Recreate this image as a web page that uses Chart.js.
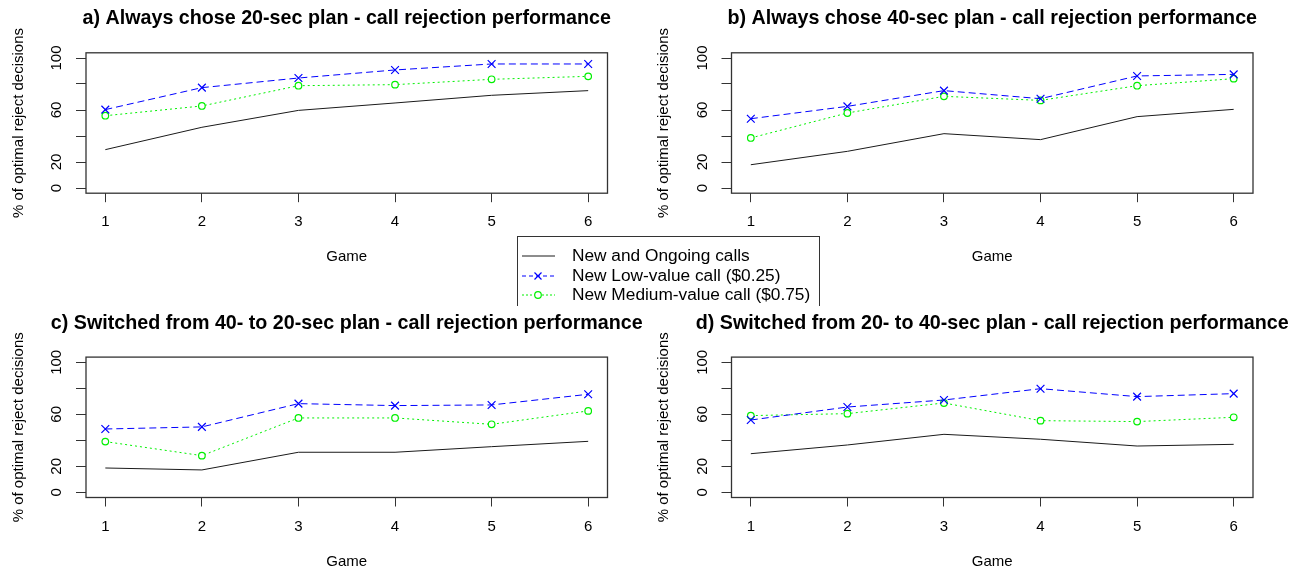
<!DOCTYPE html>
<html>
<head>
<meta charset="utf-8">
<script src="https://cdn.jsdelivr.net/npm/chart.js@4.4.1/dist/chart.umd.min.js"></script>
<style>
  body { margin: 0; background: #fff; width: 1304px; height: 569px; overflow: hidden; position: relative; font-family: "Liberation Sans", Arial, sans-serif; }
  canvas { position: absolute; }
  #legend { position: absolute; left: 517px; top: 236px; width: 303px; height: 70px; box-sizing: border-box;
            border: 1px solid #333; border-bottom: none; }
  #legend .row { position: absolute; left: 0; height: 19.7px; line-height: 19.7px; font-size: 17.3px; color: #000; white-space: nowrap; }
  #legend svg { position: absolute; left: 4px; top: 0; }
  #legend span { position: absolute; left: 54px; top: 0; }
</style>
</head>
<body>
<canvas id="chartA"></canvas>
<canvas id="chartB"></canvas>
<canvas id="chartC"></canvas>
<canvas id="chartD"></canvas>
<div id="legend"></div>

<script>
// x = game number, y = % of optimal reject decisions
const games = [1, 2, 3, 4, 5, 6];
const yTicks = [0, 20, 40, 60, 80, 100];
const yTickLabels = ['0', '20', '', '60', '', '100'];
const seriesNames = ['New and Ongoing calls', 'New Low-value call ($0.25)', 'New Medium-value call ($0.75)'];

// a) Always chose 20-sec plan
const aOngoing = [29.5, 46.7, 59.7, 65.4, 71.3, 74.9];
const aLow     = [60.3, 77.2, 84.6, 90.8, 95.4, 95.4];
const aMedium  = [55.6, 63.1, 78.7, 79.5, 83.6, 85.9];

// b) Always chose 40-sec plan
const bOngoing = [17.9, 28.2, 41.8, 37.2, 54.9, 60.5];
const bLow     = [53.3, 62.8, 74.9, 68.7, 86.2, 87.4];
const bMedium  = [38.5, 57.7, 70.5, 67.4, 78.7, 84.1];

// c) Switched from 40- to 20-sec plan
const cOngoing = [18.7, 17.2, 30.8, 30.8, 35.1, 39.2];
const cLow     = [48.7, 50.3, 68.2, 66.7, 67.2, 75.4];
const cMedium  = [39.0, 28.2, 57.2, 57.2, 52.3, 62.6];

// d) Switched from 20- to 40-sec plan
const dOngoing = [29.7, 36.4, 44.6, 40.8, 35.6, 36.9];
const dLow     = [55.6, 65.6, 71.0, 79.7, 73.6, 75.9];
const dMedium  = [59.0, 60.5, 68.7, 55.1, 54.4, 57.7];

const FONT = '"Liberation Sans", Arial, sans-serif';
Chart.defaults.font.family = FONT;
Chart.defaults.color = '#000';

// box around plot area, rotated y tick labels, panel title
const rPlotExtras = {
    id: 'rPlotExtras',
    afterDraw(chart, args, opts) {
        const { ctx, chartArea: ca } = chart;
        const yScale = chart.scales.y;
        ctx.save();
        ctx.strokeStyle = '#333';
        ctx.lineWidth = 1.3;
        ctx.strokeRect(ca.left, ca.top, ca.right - ca.left, ca.bottom - ca.top);

        ctx.fillStyle = '#000';
        ctx.font = '15px ' + FONT;
        ctx.textAlign = 'center';
        ctx.textBaseline = 'middle';
        yTicks.forEach((v, i) => {
            if (!yTickLabels[i]) return;
            ctx.save();
            ctx.translate(ca.left - 29, yScale.getPixelForValue(v));
            ctx.rotate(-Math.PI / 2);
            ctx.fillText(yTickLabels[i], 0, 0);
            ctx.restore();
        });

        ctx.font = 'bold 19.7px ' + FONT;
        ctx.fillText(opts.text, (ca.left + ca.right) / 2, ca.top - 34);
        ctx.restore();
    }
};

function makePanel(id, left, top, width, height, yWidth, pad, title, ongoing, low, medium) {
    const canvas = document.getElementById(id);
    canvas.width = width;
    canvas.height = height;
    canvas.style.left = left + 'px';
    canvas.style.top = top + 'px';

    const pts = vals => games.map((g, i) => ({ x: g, y: vals[i] }));

    return new Chart(canvas, {
        type: 'line',
        data: {
            datasets: [
                {
                    label: seriesNames[0], data: pts(ongoing),
                    borderColor: '#1a1a1a', borderWidth: 1, pointRadius: 0, tension: 0
                },
                {
                    label: seriesNames[1], data: pts(low),
                    borderColor: '#0000ff', borderWidth: 1, borderDash: [7, 4], tension: 0,
                    pointStyle: 'crossRot', pointRadius: 5.5, pointBorderColor: '#0000ff',
                    pointBorderWidth: 1.2, pointBackgroundColor: 'rgba(0,0,0,0)'
                },
                {
                    label: seriesNames[2], data: pts(medium),
                    borderColor: '#00f000', borderWidth: 1, borderDash: [2, 3], tension: 0,
                    pointStyle: 'circle', pointRadius: 3.3, pointBorderColor: '#00f000',
                    pointBorderWidth: 1.2, pointBackgroundColor: '#fff'
                }
            ]
        },
        options: {
            responsive: false,
            maintainAspectRatio: false,
            animation: false,
            devicePixelRatio: 1,
            layout: { padding: pad },
            plugins: {
                legend: { display: false },
                tooltip: { enabled: false },
                rPlotExtras: { text: title }
            },
            scales: {
                x: {
                    type: 'linear', min: 0.8, max: 6.2,
                    afterBuildTicks: s => { s.ticks = games.map(v => ({ value: v })); },
                    afterFit: s => { s.height = 73; },
                    border: { display: false },
                    grid: { drawOnChartArea: false, drawTicks: true, tickLength: 9, color: '#333' },
                    ticks: { font: { size: 15 }, padding: 11, maxRotation: 0, color: '#000' },
                    title: { display: true, text: 'Game', font: { size: 15 }, padding: { top: 0, bottom: 0 } }
                },
                y: {
                    type: 'linear', min: -4, max: 104,
                    afterBuildTicks: s => { s.ticks = yTicks.map(v => ({ value: v })); },
                    afterFit: s => { s.width = yWidth; },
                    border: { display: false },
                    grid: { drawOnChartArea: false, drawTicks: true, tickLength: 10, color: '#333' },
                    ticks: { display: false },
                    title: { display: true, text: '% of optimal reject decisions', font: { size: 15 }, padding: { top: 10, bottom: 0 } }
                }
            }
        },
        plugins: [rPlotExtras]
    });
}

makePanel('chartA', 0, 0, 652, 268, 86, { left: 0, top: 52.8, right: 44.5, bottom: 1.8 },
    'a) Always chose 20-sec plan - call rejection performance', aOngoing, aLow, aMedium);
makePanel('chartB', 645, 0, 659, 268, 86.5, { left: 0, top: 52.8, right: 51, bottom: 1.8 },
    'b) Always chose 40-sec plan - call rejection performance', bOngoing, bLow, bMedium);
makePanel('chartC', 0, 300, 652, 272, 86, { left: 0, top: 57.1, right: 44.5, bottom: 1.5 },
    'c) Switched from 40- to 20-sec plan - call rejection performance', cOngoing, cLow, cMedium);
makePanel('chartD', 645, 300, 659, 272, 86.5, { left: 0, top: 57.1, right: 51, bottom: 1.5 },
    'd) Switched from 20- to 40-sec plan - call rejection performance', dOngoing, dLow, dMedium);

// shared legend (sits between the panels, bottom edge hidden as in the figure)
const legendSamples = [
    '<line x1="0" y1="10" x2="33" y2="10" stroke="#1a1a1a" stroke-width="1"/>',
    '<line x1="0" y1="10" x2="33" y2="10" stroke="#0000ff" stroke-width="1" stroke-dasharray="4 3"/>' +
    '<path d="M12.5 6.5 L19.5 13.5 M19.5 6.5 L12.5 13.5" stroke="#0000ff" stroke-width="1.2" fill="none"/>',
    '<line x1="0" y1="10" x2="33" y2="10" stroke="#00f000" stroke-width="1" stroke-dasharray="2 2"/>' +
    '<circle cx="16" cy="10" r="3.3" stroke="#00f000" stroke-width="1.2" fill="#fff"/>'
];
const legend = document.getElementById('legend');
seriesNames.forEach((name, i) => {
    const row = document.createElement('div');
    row.className = 'row';
    row.style.top = (9 + i * 19.7) + 'px';
    row.innerHTML = '<svg width="34" height="20">' + legendSamples[i] + '</svg><span>' + name + '</span>';
    legend.appendChild(row);
});
</script>
</body>
</html>
